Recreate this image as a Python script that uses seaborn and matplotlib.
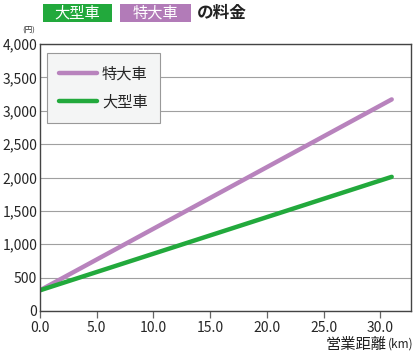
import numpy as np
import pandas as pd
import matplotlib
matplotlib.use('Agg')
import matplotlib.pyplot as plt
import seaborn as sns
from matplotlib.patches import Rectangle
from matplotlib.ticker import FuncFormatter

# data
distance = [0.0, 31.0]
fare_large = [310, 2010]        # 大型車
fare_extra = [310, 3170]        # 特大車
series_names = ['特大車', '大型車']
series_colors = ['#b883bd', '#22a93c']

df = pd.DataFrame({
    'km': distance * 2,
    'fare': fare_extra + fare_large,
    'type': [series_names[0]] * 2 + [series_names[1]] * 2,
})

W, H = 413, 354
sns.set_style('white')
plt.rcParams['font.family'] = ['Noto Sans CJK JP', 'DejaVu Sans']

fig = plt.figure(figsize=(W / 100, H / 100), dpi=100)
ax = fig.add_axes([40 / W, 1 - 311 / H, 371 / W, 267 / H])

sns.lineplot(data=df, x='km', y='fare', hue='type', hue_order=series_names,
             palette=series_colors, linewidth=3.2, ax=ax, legend=True)

ax.set_xlim(0, 32.7)
ax.set_ylim(0, 4000)
ax.set_xticks(np.arange(0, 31, 5))
ax.set_yticks(np.arange(0, 4001, 500))
ax.xaxis.set_major_formatter(FuncFormatter(lambda v, p: f'{v:.1f}'))
ax.yaxis.set_major_formatter(FuncFormatter(lambda v, p: f'{int(v):,}'))
ax.grid(axis='y', color='#a0a0a0', linewidth=0.8)
ax.set_axisbelow(True)
for s in ax.spines.values():
    s.set_color('#444444')
    s.set_linewidth(1.0)
ax.tick_params(axis='x', direction='out', length=5, width=0.9, color='#666666',
               labelsize=10, pad=2, bottom=True)
ax.tick_params(axis='y', length=0, labelsize=10, pad=2, left=False)
ax.set_xlabel('')
ax.set_ylabel('')

leg = ax.legend(loc='upper left', bbox_to_anchor=(7 / 371, 1 - 9 / 267), fontsize=11,
                frameon=True, fancybox=False, handlelength=2.5, handletextpad=0.3,
                borderpad=0.8, labelspacing=0.75, borderaxespad=0)
leg.get_frame().set_facecolor('#f4f5f5')
leg.get_frame().set_edgecolor('#999999')
leg.get_frame().set_linewidth(0.8)
leg.get_frame().set_alpha(1)

# header boxes
fig.add_artist(Rectangle((43 / W, 1 - 22 / H), 69 / W, 18 / H, transform=fig.transFigure,
                         facecolor='#22a93c', edgecolor='none', zorder=1))
fig.add_artist(Rectangle((120 / W, 1 - 22 / H), 71 / W, 18 / H, transform=fig.transFigure,
                         facecolor='#b27bb8', edgecolor='none', zorder=1))
fig.text(77.5 / W, 1 - 13 / H, '大型車', color='white', fontsize=11, va='center', ha='center', zorder=2)
fig.text(155.5 / W, 1 - 13 / H, '特大車', color='white', fontsize=11, va='center', ha='center', zorder=2)
fig.text(197 / W, 1 - 13 / H, 'の料金', color='#222222', fontsize=12, va='center', ha='left',
         fontweight='bold', zorder=2)
fig.text(29 / W, 1 - 31 / H, '(円)', fontsize=5.5, ha='center', va='center', color='#333333')
fig.text(387 / W, 1 - 343 / H, '営業距離', fontsize=11, ha='right', va='center_baseline', color='#222222')
fig.text(388 / W, 1 - 343 / H, '(km)', fontsize=8.5, ha='left', va='center_baseline', color='#222222')

fig.savefig('out.png', dpi=100)
